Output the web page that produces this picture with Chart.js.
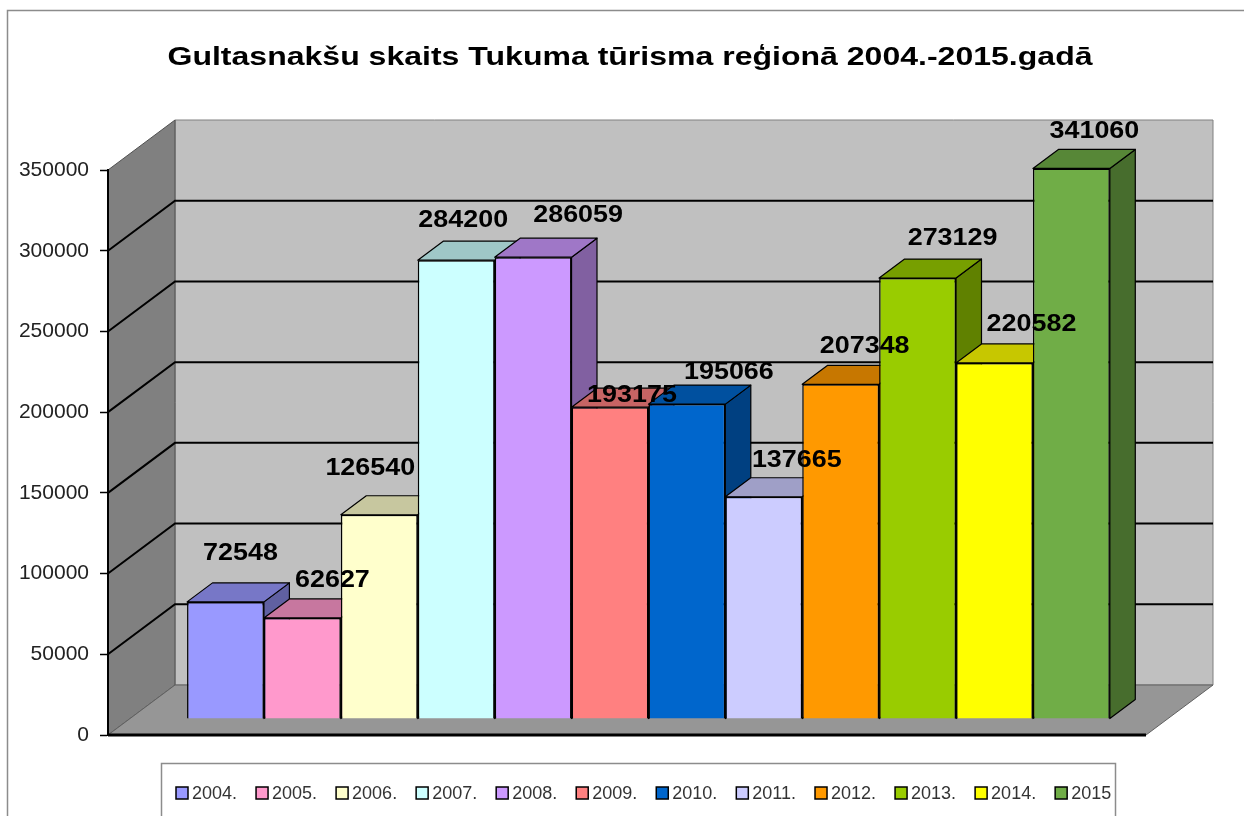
<!DOCTYPE html>
<html>
<head>
<meta charset="utf-8">
<title>Gultasnakšu skaits</title>
<script src="https://cdn.jsdelivr.net/npm/chart.js@4.4.1/dist/chart.umd.min.js"></script>
<style>
    html, body { margin: 0; padding: 0; background: #fff; }
    canvas { display: block; }
</style>
</head>
<body>
<canvas id="chart" width="1244" height="816"></canvas>
<script>
const title = "Gultasnakšu skaits Tukuma tūrisma reģionā 2004.-2015.gadā";
const years = ["2004.", "2005.", "2006.", "2007.", "2008.", "2009.", "2010.", "2011.", "2012.", "2013.", "2014.", "2015"];
const nights = [72548, 62627, 126540, 284200, 286059, 193175, 195066, 137665, 207348, 273129, 220582, 341060];
const barColors = ["#9999ff", "#ff99cc", "#ffffcc", "#ccffff", "#cc99ff", "#ff8080", "#0066cc", "#ccccff", "#ff9900", "#99cc00", "#ffff00", "#70ad47"];

const FONT = "'Liberation Sans', Arial, sans-serif";
// offset of the back wall from the front plane, and where the bars sit in that depth
const WALL = { dx: 67, dy: -50 };
const BAR_FRONT = 0.32;
const BAR_DEPTH = 0.38;
// Excel put the value labels a bit unevenly: shift from the bar's front top centre
const LABEL_DX = [15, 30, -9, 7, 45, 22, 42, 33, 24, 35, 37, 23];
const LABEL_UP = [48, 37, 46, 40, 42, 12, 31, 36, 38, 39, 38, 37];

function shade(hex, f) {
    const n = parseInt(hex.slice(1), 16);
    const r = Math.round(((n >> 16) & 255) * f);
    const g = Math.round(((n >> 8) & 255) * f);
    const b = Math.round((n & 255) * f);
    return `rgb(${r}, ${g}, ${b})`;
}

function poly(ctx, pts, fill, stroke, lw) {
    ctx.beginPath();
    ctx.moveTo(pts[0][0], pts[0][1]);
    for (let i = 1; i < pts.length; i++) ctx.lineTo(pts[i][0], pts[i][1]);
    ctx.closePath();
    if (fill) {
        ctx.fillStyle = fill;
        ctx.fill();
    }
    if (stroke) {
        ctx.strokeStyle = stroke;
        ctx.lineWidth = lw || 1;
        ctx.stroke();
    }
}

const box3d = {
    id: "box3d",
    beforeDraw(chart) {
        const { ctx, chartArea: a, scales: { y } } = chart;
        const dx = WALL.dx, dy = WALL.dy;
        ctx.save();
        // frame of the picture
        ctx.strokeStyle = "#8c8c8c";
        ctx.lineWidth = 1.5;
        ctx.strokeRect(7.5, 10.5, 1400, 1000);

        // back wall, side wall, floor
        poly(ctx, [[a.left + dx, a.top + dy], [a.right + dx, a.top + dy], [a.right + dx, a.bottom + dy], [a.left + dx, a.bottom + dy]], "#c0c0c0", "#808080", 1);
        poly(ctx, [[a.left, a.top], [a.left + dx, a.top + dy], [a.left + dx, a.bottom + dy], [a.left, a.bottom]], "#808080", "#505050", 1);
        poly(ctx, [[a.left, a.bottom], [a.right, a.bottom], [a.right + dx, a.bottom + dy], [a.left + dx, a.bottom + dy]], "#969696", "#606060", 1);

        // gridlines bent over the side wall
        ctx.strokeStyle = "#000";
        ctx.lineWidth = 2;
        y.ticks.forEach((t) => {
            if (t.value <= 0 || t.value >= y.max) return;
            const py = y.getPixelForValue(t.value);
            ctx.beginPath();
            ctx.moveTo(a.left, py);
            ctx.lineTo(a.left + dx, py + dy);
            ctx.lineTo(a.right + dx, py + dy);
            ctx.stroke();
        });

        ctx.lineWidth = 3;
        ctx.beginPath();
        ctx.moveTo(a.left, a.bottom);
        ctx.lineTo(a.right, a.bottom);
        ctx.stroke();
        ctx.restore();
    },
    beforeDatasetsDraw(chart) {
        const { ctx } = chart;
        const fx = WALL.dx * BAR_FRONT, fy = WALL.dy * BAR_FRONT;
        const bx = WALL.dx * BAR_DEPTH, by = WALL.dy * BAR_DEPTH;
        ctx.save();
        ctx.lineJoin = "round";
        // side and top faces, left to right; the fronts come from Chart.js afterwards
        chart.data.datasets.forEach((ds, i) => {
            const el = chart.getDatasetMeta(i).data[0];
            const x0 = el.x - el.width / 2 + fx, x1 = el.x + el.width / 2 + fx;
            const yt = el.y + fy, yb = el.base + fy;
            poly(ctx, [[x1, yt], [x1 + bx, yt + by], [x1 + bx, yb + by], [x1, yb]], shade(ds.backgroundColor, 0.63), "#000", 1.2);
            poly(ctx, [[x0, yt], [x1, yt], [x1 + bx, yt + by], [x0 + bx, yt + by]], shade(ds.backgroundColor, 0.78), "#000", 1.2);
        });
        ctx.restore();
        ctx.save();
        ctx.translate(fx, fy);
    },
    afterDatasetsDraw(chart) {
        const { ctx } = chart;
        ctx.restore();
        const fx = WALL.dx * BAR_FRONT, fy = WALL.dy * BAR_FRONT;
        ctx.save();
        ctx.font = `bold 23px ${FONT}`;
        ctx.fillStyle = "#000";
        ctx.textAlign = "center";
        ctx.textBaseline = "middle";
        chart.data.datasets.forEach((ds, i) => {
            const el = chart.getDatasetMeta(i).data[0];
            ctx.save();
            ctx.translate(el.x + fx + LABEL_DX[i], el.y + fy - LABEL_UP[i]);
            ctx.scale(1.17, 1);
            ctx.fillText(String(ds.data[0]), 0, 0);
            ctx.restore();
        });
        ctx.restore();
    },
    afterDraw(chart) {
        const { ctx } = chart;
        // title, stretched like the original
        ctx.save();
        ctx.font = `bold 26px ${FONT}`;
        ctx.fillStyle = "#000";
        ctx.textAlign = "center";
        ctx.textBaseline = "middle";
        const tw = ctx.measureText(title).width;
        ctx.translate(630, 58);
        ctx.scale(925 / tw, 1);
        ctx.fillText(title, 0, 0);
        ctx.restore();

        // legend box
        ctx.save();
        ctx.strokeStyle = "#8c8c8c";
        ctx.lineWidth = 1.5;
        ctx.strokeRect(161.5, 763.5, 954, 100);
        ctx.font = `18px ${FONT}`;
        ctx.textBaseline = "middle";
        let x = 176;
        chart.data.datasets.forEach((ds) => {
            ctx.fillStyle = ds.backgroundColor;
            ctx.fillRect(x, 787, 12, 12);
            ctx.strokeStyle = "#000";
            ctx.lineWidth = 1.5;
            ctx.strokeRect(x, 787, 12, 12);
            ctx.fillStyle = "#333";
            ctx.fillText(ds.label, x + 16, 794);
            x += 16 + ctx.measureText(ds.label).width + 19;
        });
        ctx.restore();
    },
};

const config = {
    type: "bar",
    data: {
        labels: [""],
        datasets: years.map((yr, i) => ({
            label: yr,
            data: [nights[i]],
            backgroundColor: barColors[i],
            borderColor: "#000",
            borderWidth: 1.5,
            categoryPercentage: 0.889,
            barPercentage: 1,
            clip: false,
        })),
    },
    options: {
        responsive: false,
        animation: false,
        events: [],
        layout: { padding: { top: 170, right: 98, bottom: 81, left: 0 } },
        scales: {
            x: { display: false },
            y: {
                min: 0,
                max: 350000,
                afterFit(scale) {
                    scale.width = 108;
                },
                ticks: {
                    stepSize: 50000,
                    padding: 11,
                    color: "#222",
                    font: { family: FONT, size: 21 },
                    callback: (v) => String(v),
                },
                grid: { drawOnChartArea: false, drawTicks: true, tickLength: 8, tickColor: "#000", tickWidth: 1.5 },
                border: { display: true, color: "#000", width: 2 },
            },
        },
        plugins: {
            legend: { display: false },
            title: { display: false },
            tooltip: { enabled: false },
        },
    },
    plugins: [box3d],
};

const chart = new Chart(document.getElementById("chart"), config);
</script>
</body>
</html>
